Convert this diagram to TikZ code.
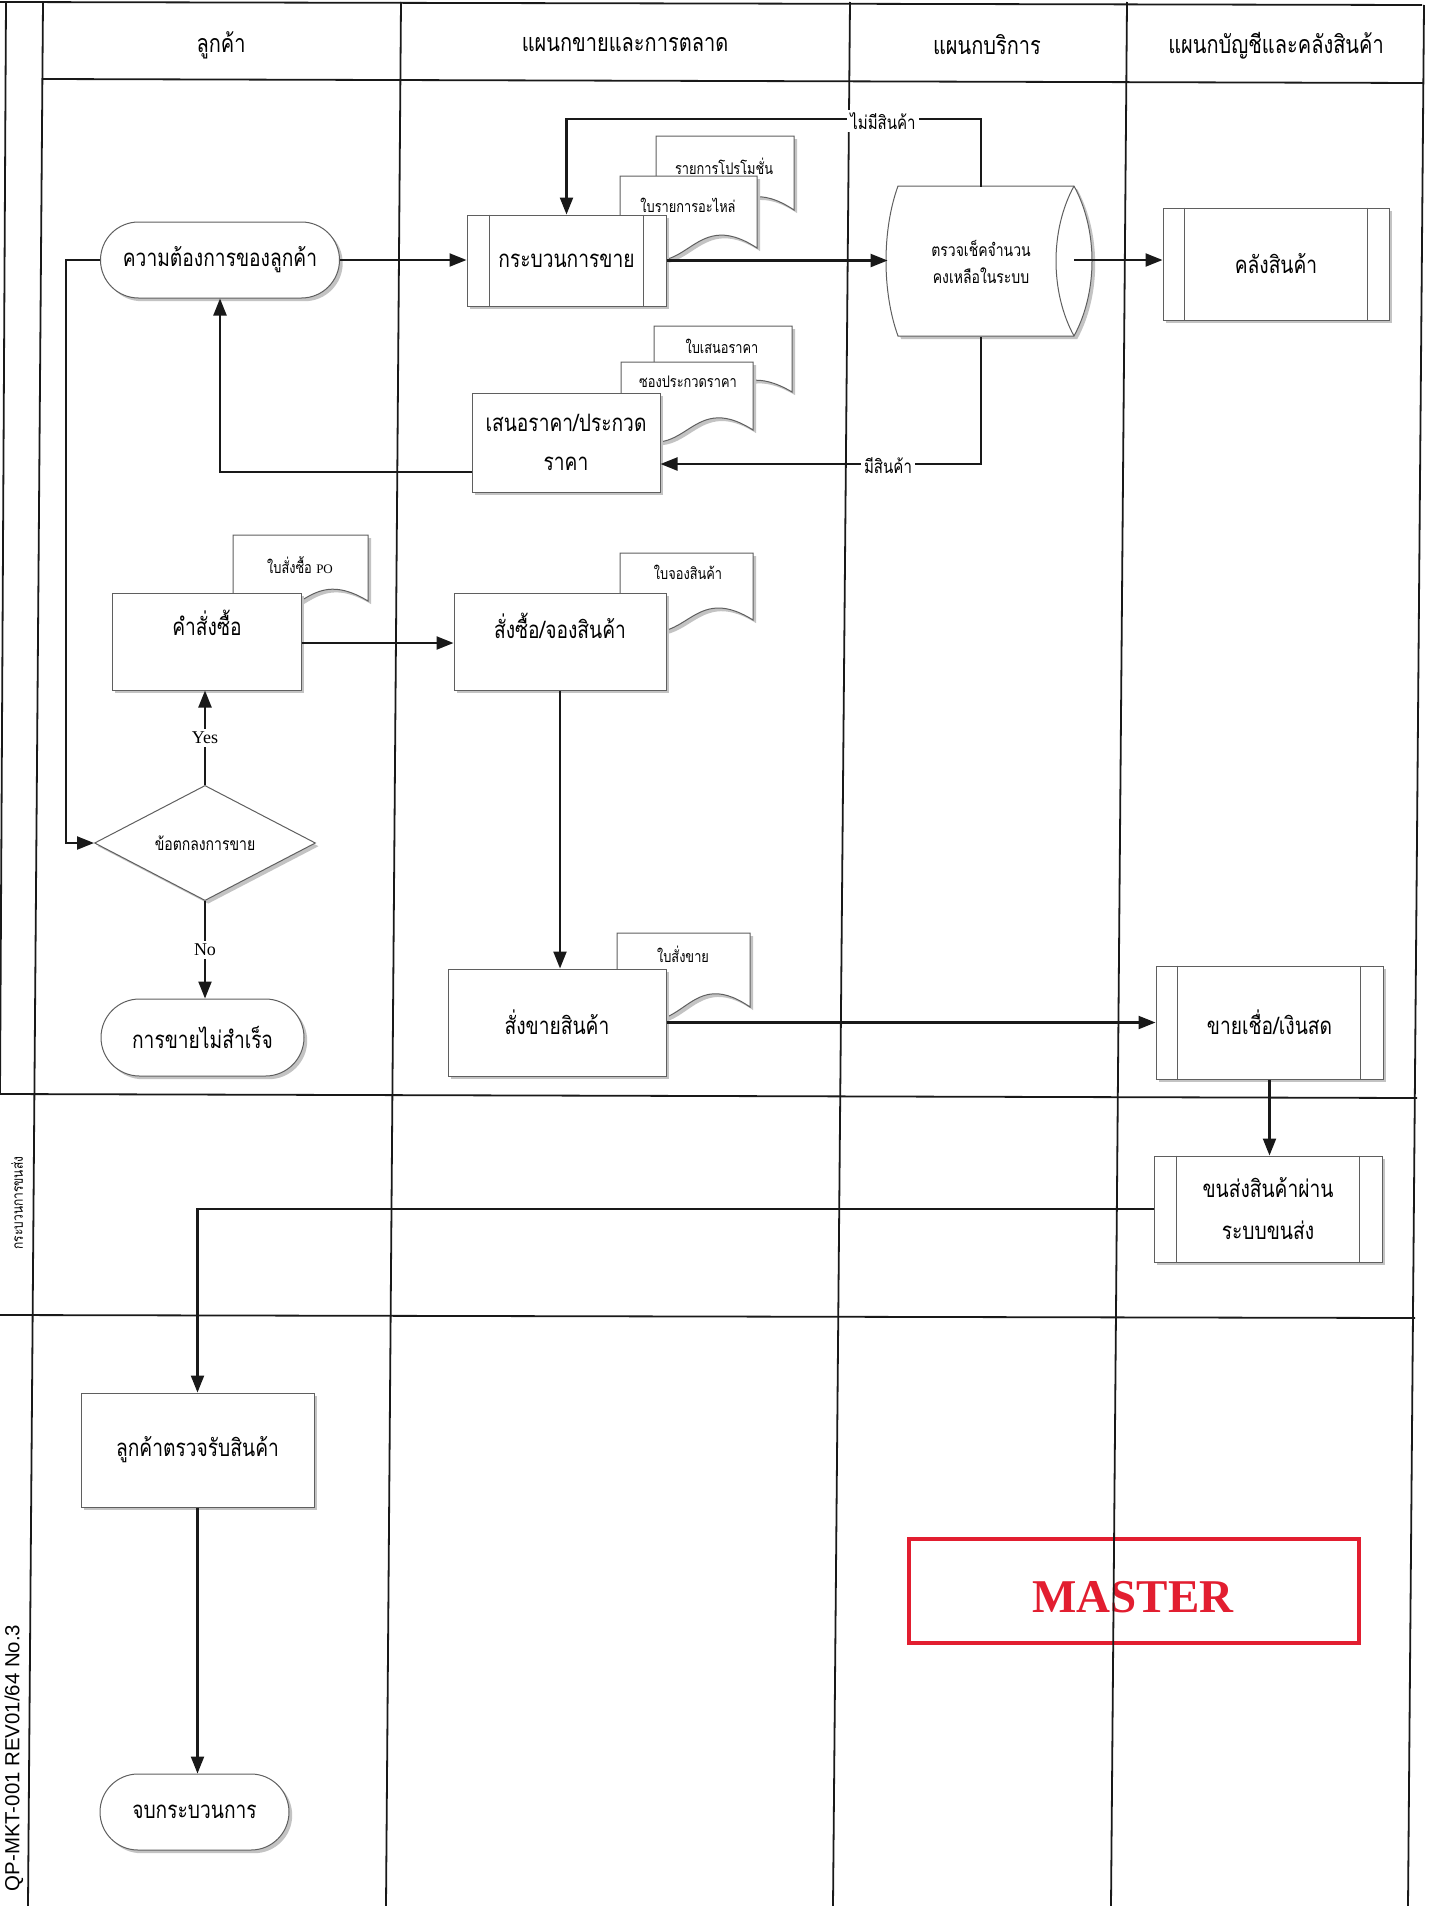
\documentclass[tikz,border=0pt]{standalone}
\usepackage{fontspec}
\setmainfont{Liberation Serif}
\newfontfamily\thai[Script=Thai,FakeStretch=0.8]{Loma}
\newfontfamily\sansf{Liberation Sans}
\usetikzlibrary{shapes.geometric,shapes.misc,shadows,calc,arrows.meta}
\definecolor{boxc}{RGB}{95,95,95}
\definecolor{shc}{RGB}{195,195,195}
\definecolor{stamp}{RGB}{226,30,48}
\definecolor{ink}{RGB}{25,25,25}
\newcommand\docshape[4]{%
  \path[docst] (#1,#3) -- (#2,#3) -- (#2,{#3+#4})
    .. controls ({#2-0.5*(#2-#1)},{#3+0.38*#4}) and ({#1+0.5*(#2-#1)},{#3+1.62*#4}) .. (#1,{#3+#4}) -- cycle;}
\begin{document}
\begin{tikzpicture}[x=0.5pt,y=-0.5pt,
  lane/.style={draw=ink, line width=0.9pt},
  conn/.style={draw=ink, line width=1.1pt},
  arr/.style={conn, -{Triangle[length=8.5pt,width=6.5pt]}},
  shad/.style={drop shadow={shadow xshift=1.6pt, shadow yshift=-1.6pt, fill=shc, opacity=1}},
  box/.style={draw=boxc, line width=0.5pt, fill=white, inner sep=0pt, shad},
  term/.style={box, rounded rectangle},
  dec/.style={box, diamond},
  docst/.style={draw=boxc, line width=0.5pt, fill=white, shad},
  inline/.style={draw=boxc, line width=0.5pt},
  big/.style={font=\thai\fontsize{12}{19.5}\selectfont, align=center},
  small/.style={font=\thai\fontsize{8}{9}\selectfont, inner sep=0pt},
  mid/.style={font=\thai\fontsize{8.75}{13.5}\selectfont, align=center},
  lbl/.style={fill=white, inner sep=1.5pt},
  hdr/.style={font=\thai\fontsize{12.5}{14}\selectfont},
  yn/.style={lbl, font=\fontsize{9}{10}\selectfont},
]
\useasboundingbox (0,0) rectangle (1434,1906);

% stamp (under the lane line)
\draw[stamp, line width=1.6pt] (909,1539) rectangle (1359,1643);
\node[text=stamp, font=\bfseries\fontsize{23.5}{26}\selectfont] (master) at (1133,1597) {MASTER};

% swimlane frame
\draw[lane] (0,2) -- (1422,5);
\draw[lane] (6,2) -- (0,1094);
\draw[lane] (43,2) -- (28,1906);
\draw[lane] (401,2) -- (386,1906);
\draw[lane] (850,2) -- (833,1906);
\draw[lane] (1127,2) -- (1111,1906);
\draw[lane] (1424,5) -- (1408,1906);
\draw[lane] (42.5,79) -- (1423,83);
\draw[lane] (0,1094) -- (1417,1098);
\draw[lane] (0,1315) -- (1415,1318);

% headers
\node[hdr] (h1) at (221,45) {ลูกค้า};
\node[hdr] (h2) at (625,45) {แผนกขายและการตลาด};
\node[hdr] (h3) at (987,45) {แผนกบริการ};
\node[hdr] (h4) at (1276,46) {แผนกบัญชีและคลังสินค้า};

% side labels
\node[font=\thai\fontsize{7.5}{8}\selectfont, rotate=90] (side1) at (17,1203) {กระบวนการขนส่ง};
\node[font=\sansf\fontsize{10.2}{12}\selectfont, rotate=90] (code) at (14,1758) {QP-MKT-001 REV01/64 No.3};

% ---- customer need
\node[term, minimum width=119.5pt, minimum height=38pt, big] (need) at (220,260) {ความต้องการของลูกค้า};

% ---- sales process with documents
\docshape{656}{794}{136}{74}
\docshape{620}{757}{176}{72}
\node[small] (d1) at (724,166) {รายการโปรโมชั่น};
\node[small] (d2) at (688,205) {ใบรายการอะไหล่};
\node[box, minimum width=99.5pt, minimum height=45.5pt, big] (sales) at (566.5,260.5) {กระบวนการขาย};
\draw[inline] ($(sales.north west)+(23,0)$) -- ($(sales.south west)+(23,0)$);
\draw[inline] ($(sales.north east)+(-23,0)$) -- ($(sales.south east)+(-23,0)$);

% ---- drum (check stock)
\path[docst] (898,186) -- (1074,186) .. controls (1098,230) and (1098,292) .. (1074,336)
  -- (898,336) .. controls (882,292) and (882,230) .. (898,186) -- cycle;
\draw[inline] (1074,186) .. controls (1050,230) and (1050,292) .. (1074,336);
\node[mid, inner sep=0pt, minimum width=93pt, minimum height=75pt] (drum) at (981,262) {ตรวจเช็คจำนวน\\คงเหลือในระบบ};

% ---- warehouse
\node[box, minimum width=113pt, minimum height=56pt, big] (wh) at (1276,264) {คลังสินค้า};
\draw[inline] ($(wh.north west)+(22,0)$) -- ($(wh.south west)+(22,0)$);
\draw[inline] ($(wh.north east)+(-22,0)$) -- ($(wh.south east)+(-22,0)$);

% ---- quotation
\docshape{654}{792}{326}{66}
\docshape{621}{753}{362}{68}
\node[small] (d3) at (722,346) {ใบเสนอราคา};
\node[small] (d4) at (688,382) {ซองประกวดราคา};
\node[box, minimum width=94pt, minimum height=49.5pt, big] (quote) at (566,442.5) {เสนอราคา/ประกวด\\ราคา};

% ---- purchase order
\docshape{233}{368}{535}{66}
\node[small] (d5) at (300,565) {ใบสั่งซื้อ {\rmfamily\fontsize{6.5}{8}\selectfont PO}};
\node[box, minimum width=94.5pt, minimum height=48.5pt] (po) at (206.5,641.5) {};
\node[big] (potxt) at (207,623) {คำสั่งซื้อ};

% ---- booking
\docshape{620}{753}{553}{67}
\node[small] (d6) at (688,572) {ใบจองสินค้า};
\node[box, minimum width=106pt, minimum height=48.5pt] (book) at (560,641.5) {};
\node[big] (booktxt) at (560,626) {สั่งซื้อ/จองสินค้า};

% ---- decision
\node[dec, minimum width=110.5pt, minimum height=55.5pt, mid] (dia) at (205,843) {ข้อตกลงการขาย};

% ---- failed sale
\node[term, minimum width=101.5pt, minimum height=38.5pt, big] (fail) at (202.5,1037.5) {การขายไม่สำเร็จ};

% ---- sales order
\docshape{617}{750}{933}{74}
\node[small] (d7) at (683,954) {ใบสั่งขาย};
\node[box, minimum width=109pt, minimum height=53.5pt, big] (so) at (557,1022.5) {สั่งขายสินค้า};

% ---- credit / cash
\node[box, minimum width=113.5pt, minimum height=56.5pt, big] (credit) at (1269.5,1022.5) {ขายเชื่อ/เงินสด};
\draw[inline] ($(credit.north west)+(22,0)$) -- ($(credit.south west)+(22,0)$);
\draw[inline] ($(credit.north east)+(-23,0)$) -- ($(credit.south east)+(-23,0)$);

% ---- shipping
\node[box, minimum width=114pt, minimum height=53pt, font=\thai\fontsize{12}{21}\selectfont, align=center] (ship) at (1268,1209) {ขนส่งสินค้าผ่าน\\ระบบขนส่ง};
\draw[inline] ($(ship.north west)+(23,0)$) -- ($(ship.south west)+(23,0)$);
\draw[inline] ($(ship.north east)+(-23,0)$) -- ($(ship.south east)+(-23,0)$);

% ---- receive
\node[box, minimum width=116.5pt, minimum height=57pt, big] (recv) at (197.5,1450) {ลูกค้าตรวจรับสินค้า};

% ---- end
\node[term, minimum width=94.5pt, minimum height=38pt, big] (end) at (194.5,1812) {จบกระบวนการ};

% ---- helper coordinates
\coordinate (ytop) at (0,119);
\coordinate (ybot) at (0,464);
\coordinate (yq) at (0,472);
\coordinate (xl) at (66,0);

% ---- connectors
\draw[arr] (need.east) -- (need.east -| sales.west);
\draw[arr] (sales.east) -- (sales.east -| drum.west);
\draw[arr] (drum.east |- 0,260) -- (wh.west |- 0,260);
\draw[arr] (drum.north) -- (drum.north |- ytop) -| (sales.north);
\node[lbl, font=\thai\fontsize{9.4}{11}\selectfont] (nostock) at (883,121) {ไม่มีสินค้า};
\draw[arr] (drum.south) -- (drum.south |- ybot) -- (quote.east |- ybot);
\node[lbl, font=\thai\fontsize{9.4}{11}\selectfont] (instock) at (888,466) {มีสินค้า};
\draw[arr] (quote.west |- yq) -| (need.south);
\draw[arr] (need.west) -- (need.west -| xl) |- (dia.west);
\draw[arr] (dia.north) -- (dia.north |- po.south) node[yn, midway] (yes) {Yes};
\draw[arr] (dia.south) -- (dia.south |- fail.north) node[yn, midway] (no) {No};
\draw[arr] (po.east |- 0,643) -- (book.west |- 0,643);
\draw[arr] (book.south) -- (book.south |- so.north);
\draw[arr] (so.east) -- (so.east -| credit.west);
\draw[arr] (credit.south) -- (credit.south |- ship.north);
\draw[arr] (ship.west) -| (recv.north);
\draw[arr] (recv.south) -- (recv.south |- end.north);
\end{tikzpicture}
\end{document}
